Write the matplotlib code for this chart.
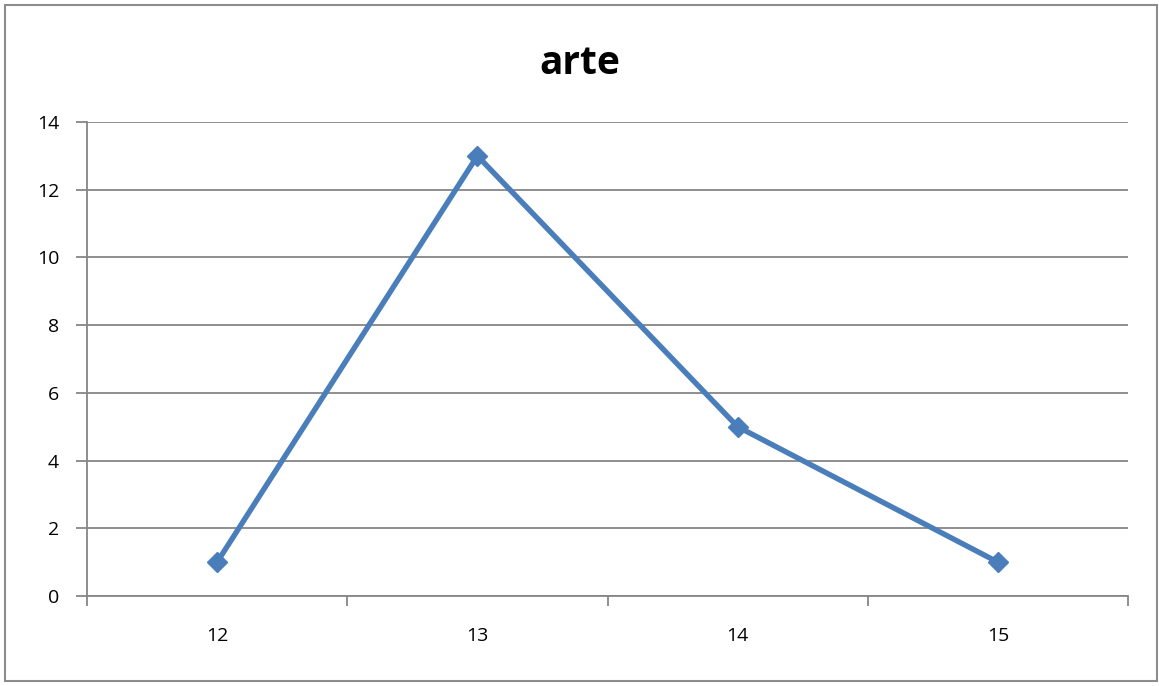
import numpy as np
import matplotlib
matplotlib.use("Agg")
import matplotlib.pyplot as plt
from matplotlib.patches import Rectangle

categories = ["12", "13", "14", "15"]
values = [1, 13, 5, 1]
title = "arte"

plt.rcParams['font.family'] = ['Open Sans', 'Liberation Sans', 'DejaVu Sans']

fig = plt.figure(figsize=(11.59, 6.86), dpi=100)
ax = fig.add_axes([87/1159, 90/686, (1128-87)/1159, (596-122)/686])

grid_c = "#868686"
x = np.arange(1, len(categories) + 1)

ax.plot(x, values, color="#4A7EBB", lw=3.9, marker="D", markersize=10,
        markeredgecolor="#4A7EBB", markerfacecolor="#4A7EBB", zorder=3)

ax.set_xlim(0.5, len(categories) + 0.5)
ax.set_ylim(0, 14)
ax.set_yticks(range(0, 15, 2))
ax.yaxis.grid(True, color=grid_c, lw=1.3)
ax.set_axisbelow(True)

# category boundaries as major ticks, labels on minor ticks at the centres
ax.set_xticks(np.arange(0.5, len(categories) + 1, 1))
ax.set_xticklabels([])
ax.set_xticks(x, minor=True)
ax.set_xticklabels(categories, minor=True)
ax.tick_params(axis="x", which="major", length=7, width=1.3, color=grid_c, direction="out")
ax.tick_params(axis="x", which="minor", length=0, pad=22, labelsize=14)
ax.tick_params(axis="y", length=8, width=1.3, color=grid_c, labelsize=14, pad=12)

for s in ["top", "right"]:
    ax.spines[s].set_visible(False)
for s in ["left", "bottom"]:
    ax.spines[s].set_color(grid_c)
    ax.spines[s].set_linewidth(1.3)

fig.text(0.5, (686-63)/686, title, ha="center", va="center", fontsize=28, fontweight="bold")

fig.patches.append(Rectangle((5/1159, 5/686), 1152/1159, 676/686, transform=fig.transFigure,
                             fill=False, edgecolor="#8c8c8c", lw=1.5))

fig.savefig("out.png", dpi=100)
